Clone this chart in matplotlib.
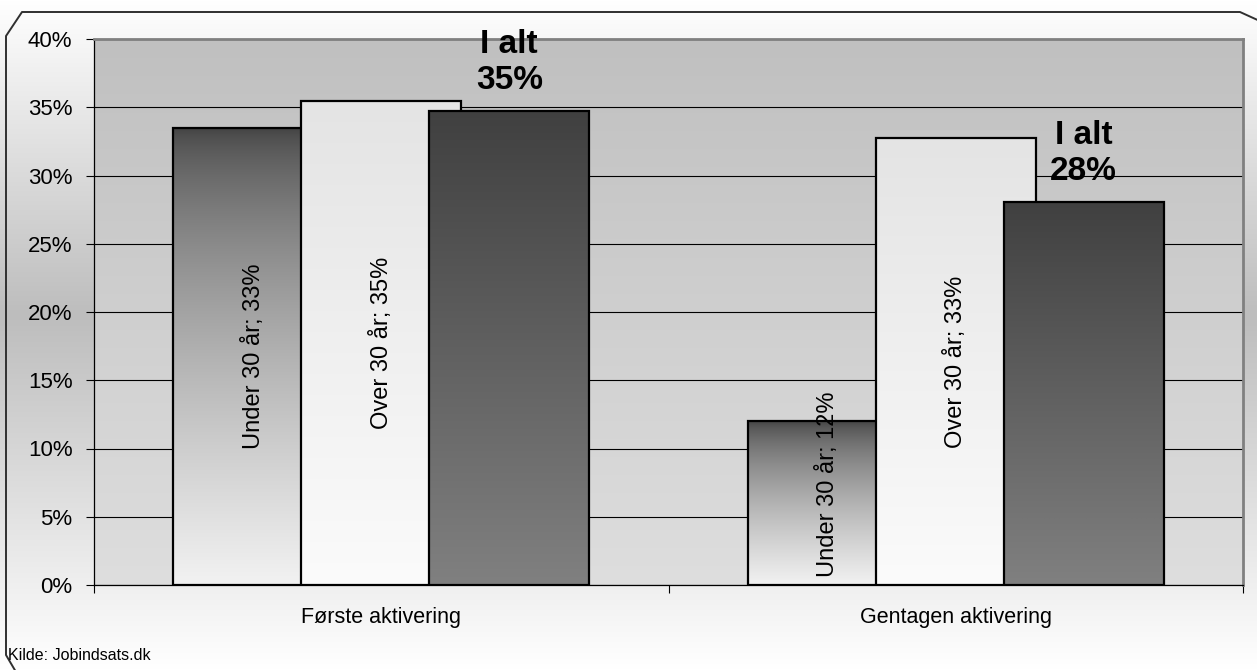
import numpy as np
import matplotlib
matplotlib.use('Agg')
import matplotlib.pyplot as plt
from matplotlib.lines import Line2D

plt.rcParams['font.family'] = ['Liberation Sans', 'DejaVu Sans']

# --- Data ---
categories = ['Første aktivering', 'Gentagen aktivering']
under30 = [33.46, 11.99]
over30 = [35.49, 32.72]
i_alt = [34.76, 28.07]
series_names = ['Under 30 år', 'Over 30 år', 'I alt']
y_ticks = [0, 5, 10, 15, 20, 25, 30, 35, 40]

W, H = 1257, 670
fig = plt.figure(figsize=(W / 100, H / 100), dpi=100)
fig.patch.set_facecolor('white')

# chart background: light at top and bottom, grey band in the middle
back = fig.add_axes([0, 0, 1, 1], zorder=-5)
t = np.linspace(0, 1, 512)[:, None]
peak = 0.47
shade = np.where(t < peak, t / peak, (1 - t) / (1 - peak))
g = (255 - 66 * shade) / 255
back.imshow(np.dstack([g] * 3), extent=[0, 1, 0, 1], origin='upper',
            aspect='auto', interpolation='bilinear')
back.set_xlim(0, 1)
back.set_ylim(0, 1)
back.axis('off')

ax = fig.add_axes([94 / W, 1 - 585 / H, (1243 - 94) / W, (585 - 39) / H])

# plot area gradient, darker at the top
bg = np.linspace(192, 222, 256)[:, None] / 255
ax.imshow(np.dstack([bg] * 3), extent=[-0.5, 1.5, 0, 40], origin='upper',
          aspect='auto', zorder=0, interpolation='bilinear')
ax.set_xlim(-0.5, 1.5)
ax.set_ylim(0, 40)

ax.set_axisbelow(True)
ax.yaxis.grid(True, color='black', linewidth=0.8)


def gradient_bar(x, h, w, top, bottom, z, gamma=1.0):
    bar = ax.bar(x, h, w, facecolor='none', edgecolor='black',
                 linewidth=1.6, zorder=z + 0.5)[0]
    t = np.linspace(0, 1, 256)[:, None] ** gamma
    g = (top + (bottom - top) * t) / 255
    im = ax.imshow(np.dstack([g] * 3), extent=[x - w / 2, x + w / 2, 0, h],
                   origin='upper', aspect='auto', zorder=z,
                   interpolation='bilinear')
    im.set_clip_path(bar)
    return bar


width = 0.2785
step = 0.2228
styles = [(66, 242, 0.65), (228, 251, 1.0), (64, 128, 1.0)]

for i in range(len(categories)):
    vals = [under30[i], over30[i], i_alt[i]]
    for j, v in enumerate(vals):
        x = i + (j - 1) * step
        top, bottom, gam = styles[j]
        gradient_bar(x, v, width, top, bottom, 2 + j, gam)
        if j < 2:
            label = f'{series_names[j]}; {v:.0f}%'
            if v < 20:
                ax.text(x, 0.6, label, rotation=90, ha='center', va='bottom',
                        fontsize=17, zorder=10)
            else:
                ax.text(x, v / 2, label, rotation=90, ha='center', va='center',
                        fontsize=17, zorder=10)
        else:
            ax.text(x, v + 1.1, f'I alt\n{v:.0f}%', ha='center', va='bottom',
                    fontsize=24, fontweight='bold', zorder=10, linespacing=1.2)

# axes, ticks, labels
ax.set_yticks(y_ticks)
ax.set_yticklabels([f'{t}%' for t in y_ticks])
ax.tick_params(axis='y', length=5.5, width=0.8, pad=10, labelsize=16)
ax.set_xticks([0, 1])
ax.set_xticklabels(categories)
ax.tick_params(axis='x', which='major', length=0, pad=16, labelsize=15.5)
ax.set_xticks([-0.5, 0.5, 1.5], minor=True)
ax.tick_params(axis='x', which='minor', length=6, width=0.8, direction='out')

for side in ['left', 'bottom']:
    ax.spines[side].set_color('black')
    ax.spines[side].set_linewidth(0.9)
for side in ['top', 'right']:
    ax.spines[side].set_color('#808080')
    ax.spines[side].set_linewidth(2)

fig.text(8 / W, 1 - 656 / H, 'Kilde: Jobindsats.dk', fontsize=11.5,
         ha='left', va='center')

# chart frame with bevelled corner, running off the right and bottom edges
px = np.array([16, 6, 6, 22, 1240, 1262])
py = np.array([672, 655, 36, 12, 12, 22])
fig.add_artist(Line2D(px / W, 1 - py / H, color='#303030', linewidth=1.4))

fig.savefig('out.png', dpi=100)
